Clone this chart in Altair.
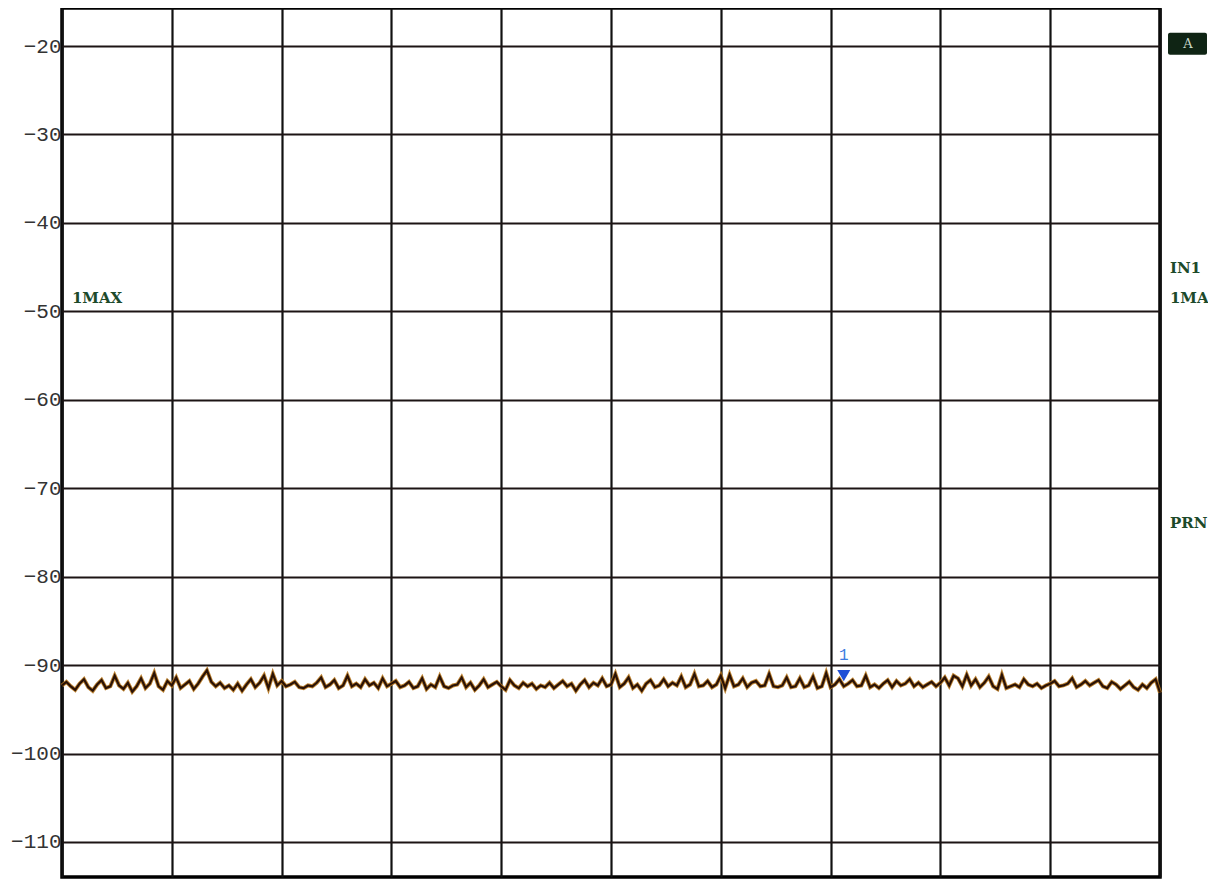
import altair as alt
import pandas as pd

# ---- data -------------------------------------------------------------
y_ticks = [-20, -30, -40, -50, -60, -70, -80, -90, -100, -110]
x_grid = [0, 100, 200, 300, 400, 500, 600, 700, 800, 900, 1000]

trace_db = [
    -92.3, -91.9, -92.4, -92.8, -92.1, -91.6, -92.5, -92.9, -92.2, -91.7, -92.6, -92.4, -91.2,
    -92.3, -92.7, -92.0, -93.0, -92.4, -91.5, -92.6, -92.1, -90.9, -92.4, -92.8, -91.8,
    -92.3, -91.4, -92.6, -92.2, -91.8, -92.7, -92.1, -91.3, -90.6, -91.9, -92.4, -92.0, -92.6,
    -92.3, -92.8, -92.1, -92.9, -92.2, -91.6, -92.5, -92.0, -91.2, -92.6, -91.0, -92.3,
    -91.8, -92.4, -92.2, -91.9, -92.5, -92.6, -92.3, -92.4, -92.0, -91.4, -92.5, -92.2, -91.7,
    -92.6, -92.3, -91.2, -92.4, -92.1, -92.5, -91.6, -92.3, -92.0, -92.6, -91.5, -92.4,
    -92.1, -91.8, -92.5, -92.3, -91.9, -92.6, -92.4, -91.5, -92.7, -92.2, -92.5, -91.3, -92.4,
    -92.6, -92.3, -92.2, -91.4, -92.5, -92.0, -92.8, -92.3, -91.6, -92.5, -92.2, -91.9,
    -92.4, -92.8, -91.7, -92.3, -92.6, -92.0, -92.4, -92.1, -92.7, -92.3, -92.5, -92.0, -92.6,
    -92.2, -91.8, -92.4, -92.1, -92.9, -92.2, -91.7, -92.5, -92.0, -92.3, -91.5, -92.4,
    -92.2, -91.0, -92.5, -92.1, -91.4, -92.6, -92.2, -92.9, -92.1, -91.7, -92.5, -92.3, -91.6,
    -92.4, -92.0, -92.3, -91.3, -92.5, -92.2, -91.0, -92.4, -92.3, -91.8, -92.5, -92.2,
    -91.2, -92.6, -91.1, -92.4, -92.2, -91.5, -92.5, -92.0, -91.8, -92.4, -92.3, -91.0, -92.4,
    -92.5, -92.3, -91.4, -92.5, -92.4, -91.5, -92.5, -92.3, -91.3, -92.6, -92.4, -90.9,
    -92.5, -92.2, -91.6, -92.4, -92.1, -91.7, -92.4, -92.3, -91.2, -92.5, -92.2, -92.6, -92.1,
    -91.7, -92.5, -91.8, -92.3, -92.1, -91.6, -92.4, -92.0, -92.5, -92.2, -91.9, -92.4,
    -92.0, -91.4, -92.3, -91.2, -91.5, -92.4, -91.1, -92.3, -91.6, -92.5, -92.0, -91.3, -92.4,
    -92.7, -91.1, -92.6, -92.4, -92.2, -92.5, -91.6, -92.2, -92.4, -92.1, -92.6, -92.3,
    -92.1, -91.8, -92.4, -92.3, -92.1, -91.5, -92.5, -92.2, -91.8, -92.3, -92.0, -91.7, -92.4,
    -92.6, -91.9, -92.2, -92.7, -92.3, -91.9, -92.5, -92.8, -92.2, -92.6, -92.0, -91.6, -93.1,
]
trace_x = [i * 4 for i in range(len(trace_db))]

marker_x = [712]
marker_y = [-91.2]
marker_label = ["1"]
marker_label_y = [-88.9]

side_labels = ["IN1", "1MA", "PRN", "1MAX"]
side_x = [1009, 1009, 1009, 9]
side_y = [-45.1, -48.5, -73.9, -48.5]

box_x = [1007.3]
box_x2 = [1042.8]
box_y = [-18.5]
box_y2 = [-21.0]
box_text = ["A"]
box_text_x = [1025.5]
box_text_y = [-19.8]

Y_DOMAIN = [-113.96, -15.70]
X_DOMAIN = [0, 1000]

# ---- chart ------------------------------------------------------------
trace_df = pd.DataFrame({"x": trace_x, "db": trace_db})
xs = alt.Scale(domain=X_DOMAIN, nice=False, zero=False)
ys = alt.Scale(domain=Y_DOMAIN, nice=False, zero=False)

x_axis = alt.Axis(values=x_grid, grid=True, gridColor="#111111", gridWidth=2.2,
                  gridOpacity=1, labels=False, ticks=False, domain=False, title=None)
y_axis = alt.Axis(values=y_ticks, grid=True, gridColor="#1c1414", gridWidth=2.2,
                  gridOpacity=1, labelFont="Liberation Mono", labelFontSize=21,
                  labelColor="#333333", labelPadding=1, ticks=False, domain=False,
                  title=None)

base = alt.Chart(trace_df)
glow = base.mark_line(color="#b5741c", strokeWidth=4, opacity=0.9).encode(
    x=alt.X("x:Q", scale=xs, axis=x_axis),
    y=alt.Y("db:Q", scale=ys, axis=y_axis),
)
core = base.mark_line(color="#2a1206", strokeWidth=2.2).encode(
    x=alt.X("x:Q", scale=xs),
    y=alt.Y("db:Q", scale=ys),
)

mk_df = pd.DataFrame({"x": marker_x, "y": marker_y, "ly": marker_label_y, "t": marker_label})
marker = alt.Chart(mk_df).mark_point(shape="triangle-down", filled=True, color="#1f4fd6",
                                     size=170, opacity=1).encode(
    x=alt.X("x:Q", scale=xs), y=alt.Y("y:Q", scale=ys))
marker_txt = alt.Chart(mk_df).mark_text(color="#3b7be0", font="Liberation Mono",
                                        fontSize=16).encode(
    x=alt.X("x:Q", scale=xs), y=alt.Y("ly:Q", scale=ys), text="t:N")

side_df = pd.DataFrame({"x": side_x, "y": side_y, "t": side_labels})
side = alt.Chart(side_df).mark_text(align="left", baseline="middle", font="DejaVu Serif",
                                    fontWeight="bold", fontSize=15, color="#1d4a2a").encode(
    x=alt.X("x:Q", scale=xs), y=alt.Y("y:Q", scale=ys), text="t:N")

box_df = pd.DataFrame({"x": box_x, "x2": box_x2, "y": box_y, "y2": box_y2,
                       "tx": box_text_x, "ty": box_text_y, "t": box_text})
box = alt.Chart(box_df).mark_rect(color="#0f2414", cornerRadius=2).encode(
    x=alt.X("x:Q", scale=xs), x2="x2:Q", y=alt.Y("y:Q", scale=ys), y2="y2:Q")
box_txt = alt.Chart(box_df).mark_text(color="#c9d8c8", font="DejaVu Serif", fontSize=13,
                                      baseline="middle").encode(
    x=alt.X("tx:Q", scale=xs), y=alt.Y("ty:Q", scale=ys), text="t:N")

chart = alt.layer(glow, core, marker, marker_txt, side, box, box_txt).properties(
    width=1098, height=869,
    autosize=alt.AutoSizeParams(type="none"),
    padding={"left": 54, "top": 0, "right": 48, "bottom": 2},
    background="white",
).configure_view(stroke="#000000", strokeWidth=3.5)

chart.save("out.html", embed_options={"renderer": "svg", "actions": False})
